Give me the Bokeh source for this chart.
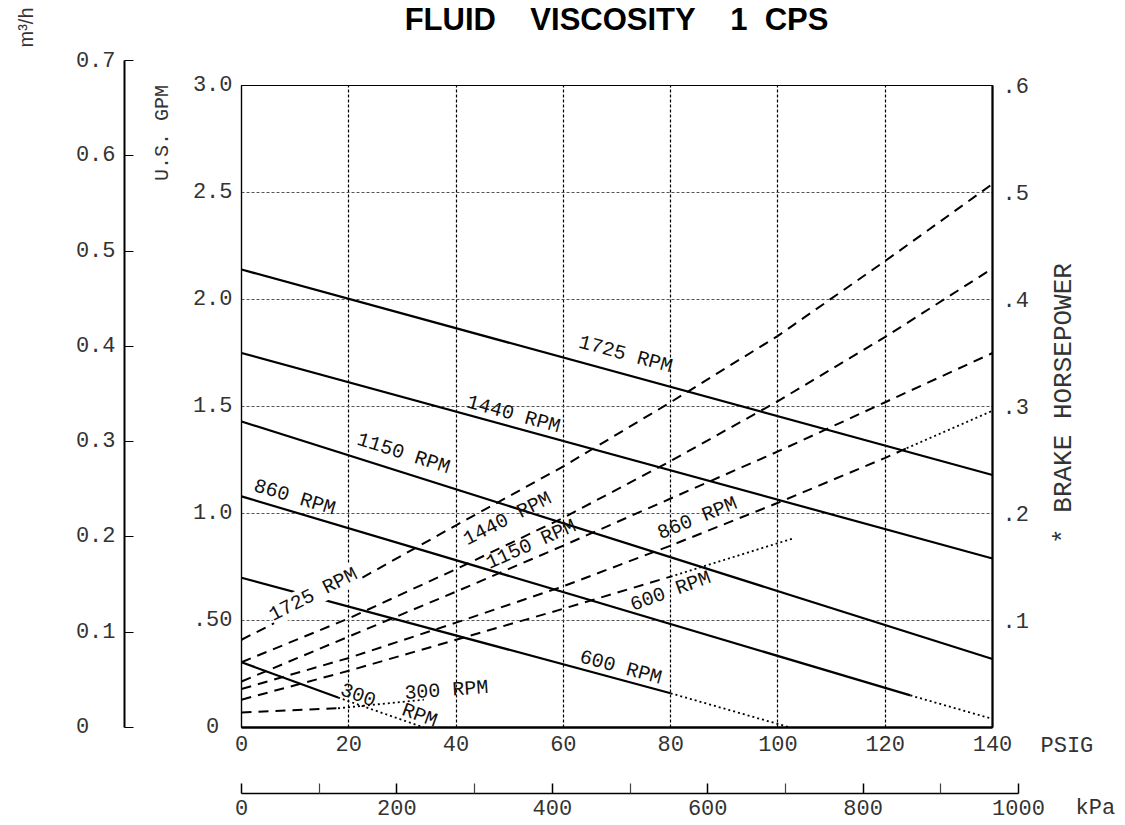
import math
from bokeh.plotting import figure
from bokeh.models import Range1d, LinearAxis, FixedTicker, Label, Grid
from bokeh.layouts import row, column
from bokeh.embed import file_html
from bokeh.resources import INLINE

# ---------------- data ----------------
psig_ticks = [0, 20, 40, 60, 80, 100, 120, 140]
psig_grid = [20, 40, 60, 80, 100, 120]
gpm_ticks = [0, 0.5, 1.0, 1.5, 2.0, 2.5, 3.0]
gpm_labels = ["0\u00a0", ".50", "1.0", "1.5", "2.0", "2.5", "3.0"]
gpm_grid = [0.5, 1.0, 1.5, 2.0, 2.5]
bhp_ticks = [0.1, 0.2, 0.3, 0.4, 0.5, 0.6]
bhp_labels = [".1", ".2", ".3", ".4", ".5", ".6"]
m3h_ticks = [0, 0.1, 0.2, 0.3, 0.4, 0.5, 0.6, 0.7]
m3h_labels = ["0\u00a0\u00a0", "0.1", "0.2", "0.3", "0.4", "0.5", "0.6", "0.7"]
kpa_ticks = [0, 200, 400, 600, 800, 1000]
kpa_minor = [100, 300, 500, 700, 900]

# capacity (U.S. GPM) vs pressure (PSIG): solid part, dotted extension
flow_1725_psi = [0, 140]
flow_1725_gpm = [2.14, 1.18]
flow_1440_psi = [0, 140]
flow_1440_gpm = [1.75, 0.79]
flow_1150_psi = [0, 140]
flow_1150_gpm = [1.43, 0.32]
flow_860_psi = [0, 124.7]
flow_860_gpm = [1.08, 0.15]
flow_860_ext_psi = [124.7, 140]
flow_860_ext_gpm = [0.15, 0.04]
flow_600_psi = [0, 80]
flow_600_gpm = [0.70, 0.16]
flow_600_ext_psi = [80, 102.3]
flow_600_ext_gpm = [0.16, 0.0]
flow_300_psi = [0, 18]
flow_300_gpm = [0.305, 0.14]
flow_300_ext_psi = [18, 34]
flow_300_ext_gpm = [0.14, 0.0]

# brake horsepower vs pressure (dashed), with dotted extensions
bhp_psi = [0, 20, 40, 60, 80, 100, 120, 140]
bhp_1725 = [0.082, 0.133, 0.189, 0.244, 0.304, 0.366, 0.436, 0.508]
bhp_1440 = [0.061, 0.102, 0.148, 0.196, 0.249, 0.305, 0.365, 0.429]
bhp_1150 = [0.043, 0.085, 0.127, 0.170, 0.214, 0.258, 0.304, 0.350]
bhp_860_psi = [0, 20, 40, 60, 80, 100, 120, 124]
bhp_860 = [0.036, 0.065, 0.098, 0.132, 0.170, 0.210, 0.252, 0.261]
bhp_860_ext_psi = [124, 140]
bhp_860_ext = [0.261, 0.296]
bhp_600_psi = [0, 20, 40, 60, 80]
bhp_600 = [0.026, 0.053, 0.082, 0.111, 0.141]
bhp_600_ext_psi = [80, 103]
bhp_600_ext = [0.141, 0.177]
bhp_300_psi = [0, 18]
bhp_300 = [0.014, 0.018]
bhp_300_ext_psi = [18, 34]
bhp_300_ext = [0.018, 0.026]

# ---------------- styling helpers ----------------
FONT = "Liberation Mono"
TICK_FS = "22px"
TICK_COLOR = "#333333"


def overrides(ticks, labels):
    d = {}
    for t, l in zip(ticks, labels):
        d[t] = l
        d[str(int(t)) if float(t) == int(t) else repr(float(t))] = l
    return d


def style_axis(ax, standoff):
    ax.major_label_text_font = FONT
    ax.major_label_text_font_size = TICK_FS
    ax.major_label_text_color = TICK_COLOR
    ax.major_tick_in = 0
    ax.major_tick_out = 0
    ax.minor_tick_in = 0
    ax.minor_tick_out = 0
    ax.major_label_standoff = standoff
    ax.axis_line_color = "black"


def blank_fig(w, h, xr, yr, **borders):
    opts = dict(min_border=0)
    opts.update(borders)
    f = figure(frame_width=w, frame_height=h, x_range=xr, y_range=yr,
               x_axis_location=None, y_axis_location=None,
               output_backend="svg", toolbar_location=None, **opts)
    f.grid.visible = False
    f.outline_line_color = None
    return f


def text(fig, s, x, y, deg=0, align="center", size=TICK_FS, font=FONT,
         style="normal", color=TICK_COLOR):
    fig.add_layout(Label(x=x, y=y, text=s, angle=math.radians(deg),
                         text_align=align, text_baseline="middle",
                         text_font=font, text_font_style=style,
                         text_font_size=size, text_color=color))


# ---------------- top strip: title and m3/h unit ----------------
top = blank_fig(1123, 48, Range1d(0, 1123), Range1d(48, 0))
text(top, "FLUID\u00a0\u00a0\u00a0\u00a0VISCOSITY\u00a0\u00a0\u00a0\u00a01\u00a0\u00a0CPS",
     616, 19, size="31px", font="Liberation Sans", style="bold", color="black")
text(top, "m³/h", 25, 27, deg=90, size="20px", font="Liberation Sans")

# ---------------- m3/h axis (left) ----------------
lf = figure(frame_width=61, frame_height=667,
            x_range=Range1d(0, 61), y_range=Range1d(0, 0.7),
            x_axis_location=None, y_axis_location="left",
            min_border_left=124, min_border_right=0,
            min_border_top=12, min_border_bottom=20,
            output_backend="svg", toolbar_location=None)
lf.grid.visible = False
lf.outline_line_color = None
ay = lf.yaxis[0]
ay.ticker = FixedTicker(ticks=m3h_ticks)
ay.major_label_overrides = overrides(m3h_ticks, m3h_labels)
style_axis(ay, 9)
ay.major_tick_in = 9
ay.major_tick_line_width = 1.2
ay.axis_line_width = 2
text(lf, "U.S. GPM", 38, 0.624, deg=90, size="20px")

# ---------------- main chart ----------------
p = figure(frame_width=751, frame_height=642,
           x_range=Range1d(0, 140), y_range=Range1d(0, 3.0),
           x_axis_location=None, y_axis_location=None,
           min_border_left=56, min_border_right=40,
           min_border_top=37, min_border_bottom=55,
           output_backend="svg", toolbar_location=None)
p.grid.visible = False
p.extra_y_ranges = {"bhp": Range1d(0, 0.6)}
p.outline_line_color = "black"
p.outline_line_width = 1.2

ax_psi = LinearAxis(ticker=FixedTicker(ticks=psig_ticks))
style_axis(ax_psi, 8)
ax_psi.axis_line_width = 2.5
p.add_layout(ax_psi, "below")

ax_gpm = LinearAxis(ticker=FixedTicker(ticks=gpm_ticks),
                    major_label_overrides=overrides(gpm_ticks, gpm_labels))
style_axis(ax_gpm, 9)
ax_gpm.axis_line_width = 1.2
p.add_layout(ax_gpm, "left")

ax_bhp = LinearAxis(y_range_name="bhp", ticker=FixedTicker(ticks=bhp_ticks),
                    major_label_overrides=overrides(bhp_ticks, bhp_labels))
style_axis(ax_bhp, 10)
ax_bhp.axis_line_width = 2.2
p.add_layout(ax_bhp, "right")

p.add_layout(Grid(dimension=0, ticker=FixedTicker(ticks=psig_grid),
                  grid_line_color="black", grid_line_dash="3 2", grid_line_width=1.2))
p.add_layout(Grid(dimension=1, ticker=FixedTicker(ticks=gpm_grid),
                  grid_line_color="#555555", grid_line_dash="3 2", grid_line_width=1.0))

SOLID = dict(line_color="black", line_width=2.2)
DOT = dict(line_color="black", line_width=1.8, line_dash="2 3")
DASH = dict(line_color="black", line_width=2.0, line_dash="10 7")

for xs, ys in [(flow_1725_psi, flow_1725_gpm), (flow_1440_psi, flow_1440_gpm),
               (flow_1150_psi, flow_1150_gpm), (flow_860_psi, flow_860_gpm),
               (flow_600_psi, flow_600_gpm), (flow_300_psi, flow_300_gpm)]:
    p.line(xs, ys, **SOLID)
for xs, ys in [(flow_860_ext_psi, flow_860_ext_gpm), (flow_600_ext_psi, flow_600_ext_gpm),
               (flow_300_ext_psi, flow_300_ext_gpm)]:
    p.line(xs, ys, **DOT)

for xs, ys in [(bhp_psi, bhp_1725), (bhp_psi, bhp_1440), (bhp_psi, bhp_1150),
               (bhp_860_psi, bhp_860), (bhp_600_psi, bhp_600), (bhp_300_psi, bhp_300)]:
    p.line(xs, ys, y_range_name="bhp", **DASH)
for xs, ys in [(bhp_860_ext_psi, bhp_860_ext), (bhp_600_ext_psi, bhp_600_ext),
               (bhp_300_ext_psi, bhp_300_ext)]:
    p.line(xs, ys, y_range_name="bhp", **DOT)


def curve_label(s, x, y, deg, bg=False):
    lab = Label(x=x, y=y, text=s, angle=math.radians(deg),
                text_align="center", text_baseline="middle",
                text_font=FONT, text_font_size="20px", text_color="#111111")
    if bg:
        lab.background_fill_color = "white"
    p.add_layout(lab)


# capacity curve labels (psi, gpm, angle)
curve_label("1725 RPM", 71.6, 1.743, -15.2)
curve_label("1440 RPM", 50.7, 1.463, -15.3)
curve_label("1150 RPM", 30.2, 1.280, -17.7)
curve_label("860 RPM", 9.9, 1.075, -16.7)
curve_label("600 RPM", 70.7, 0.280, -15.1)
curve_label("300", 21.8, 0.154, -20)
curve_label("RPM", 33.2, 0.056, -20)
# horsepower curve labels
curve_label("1725 RPM", 13.4, 0.621, 27, bg=True)
curve_label("1440 RPM", 49.6, 0.975, 27)
curve_label("1150 RPM", 54.0, 0.855, 24)
curve_label("860 RPM", 85.0, 0.977, 22)
curve_label("600 RPM", 80.0, 0.636, 20)
curve_label("300 RPM", 38.2, 0.173, 4)

# ---------------- right strip: axis title and PSIG unit ----------------
# its frame top lines up with the chart frame top (y = 85)
rf = blank_fig(91, 697, Range1d(0, 91), Range1d(697, 0), min_border_top=37)
text(rf, "* BRAKE HORSEPOWER", 31, 318, deg=90, size="26px")
text(rf, "PSIG", 8, 661, align="left")

# ---------------- kPa axis (below) ----------------
kf = figure(frame_width=777, frame_height=11,
            x_range=Range1d(0, 1000), y_range=Range1d(0, 1),
            x_axis_location="below", y_axis_location=None,
            min_border_left=56, min_border_right=30,
            min_border_top=0, min_border_bottom=31,
            output_backend="svg", toolbar_location=None)
kf.grid.visible = False
kf.outline_line_color = None
ak = kf.xaxis[0]
ak.ticker = FixedTicker(ticks=kpa_ticks, minor_ticks=kpa_minor)
style_axis(ak, 6)
ak.major_tick_in = 10
ak.minor_tick_in = 10
ak.major_tick_line_width = 1.5
ak.minor_tick_line_width = 1.2
ak.minor_tick_line_color = "#444444"
ak.axis_line_width = 1.5

kl = blank_fig(75, 42, Range1d(0, 75), Range1d(42, 0))
text(kl, "kPa", 27, 26, align="left")

layout = column(top, row(lf, column(row(p, rf), row(kf, kl))))
open("out.html", "w").write(file_html(layout, INLINE))
